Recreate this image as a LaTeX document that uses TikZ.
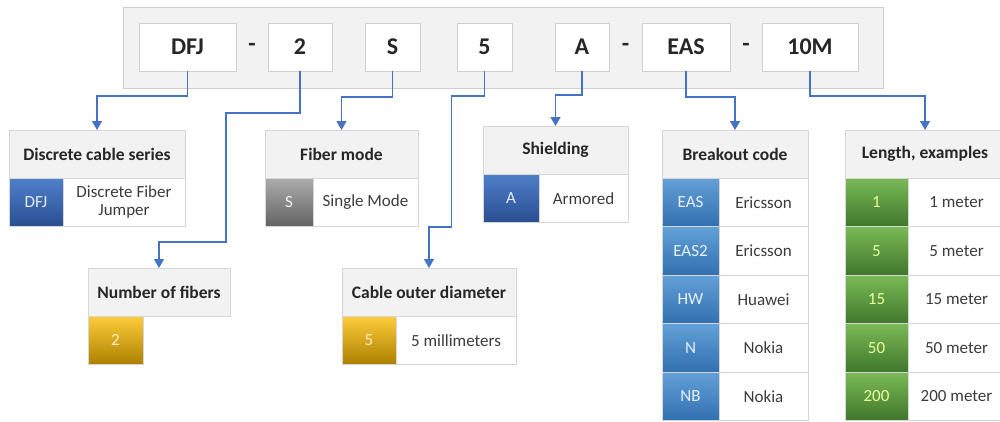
\documentclass[tikz,border=0pt]{standalone}
\usepackage{fontspec}
\setmainfont{Carlito}
\usetikzlibrary{arrows.meta,positioning}

\definecolor{panel}{HTML}{F2F2F2}
\definecolor{framegray}{HTML}{CFCFCF}
\definecolor{linegray}{HTML}{D6D6D6}
\definecolor{ink}{HTML}{262626}
\definecolor{linkblue}{HTML}{4472C4}
\definecolor{navytop}{HTML}{4F7FCB}
\definecolor{navybot}{HTML}{2A4E90}
\definecolor{skytop}{HTML}{63A0D8}
\definecolor{skybot}{HTML}{3270B0}
\definecolor{slatetop}{HTML}{ADADAD}
\definecolor{slatebot}{HTML}{626262}
\definecolor{goldtop}{HTML}{FFCD3A}
\definecolor{goldbot}{HTML}{AC8000}
\definecolor{leaftop}{HTML}{7BBA56}
\definecolor{leafbot}{HTML}{3E782B}

\begin{document}
\begin{tikzpicture}[x=1pt,y=-1pt,>={Triangle[width=10pt,length=9pt]},
    every node/.style={outer sep=0pt},
    frame/.style={draw=framegray,fill=panel,line width=0.8pt,minimum width=760pt,minimum height=81pt,anchor=north west},
    code/.style={draw=framegray,fill=white,line width=0.8pt,minimum height=48pt,inner sep=0pt,text=ink,font=\fontsize{24}{24}\selectfont\bfseries},
    sep/.style={inner sep=0pt,minimum height=48pt,text=ink,font=\fontsize{24}{24}\selectfont\bfseries},
    head/.style={draw=linegray,fill=panel,line width=0.8pt,minimum height=48pt,inner sep=0pt,anchor=north west,text=ink,font=\fontsize{17.5}{18}\selectfont\bfseries},
    key/.style={draw=linegray,line width=0.8pt,minimum height=48.5pt,inner sep=0pt,anchor=north west,font=\fontsize{17}{18}\selectfont},
    desc/.style={draw=linegray,fill=white,line width=0.8pt,minimum height=48.5pt,inner sep=0pt,anchor=north west,align=center,text=ink!90,font=\fontsize{17}{18}\selectfont},
    navy/.style={key,top color=navytop,bottom color=navybot,text=white!85!navytop},
    sky/.style={key,top color=skytop,bottom color=skybot,text=white!85!skytop},
    slate/.style={key,top color=slatetop,bottom color=slatebot,text=white!85!slatetop},
    gold/.style={key,top color=goldtop,bottom color=goldbot,text=white!70!goldtop},
    leaf/.style={key,top color=leaftop,bottom color=leafbot,text=green!20!yellow!40!white},
    link/.style={->,draw=linkblue,line width=1.3pt}]

\useasboundingbox (0,0) rectangle (1000,421);

% part number
\node [frame] (pn) at (123,7) {};

\node [code, minimum width=97pt] (series) at (187.5,47) {DFJ};
\node [sep, minimum width=32pt] (d1) [right=0pt of series] {-};
\node [code, minimum width=64pt] (fibers) [right=0pt of d1] {2};
\node [code, minimum width=55pt] (mode) [right=33pt of fibers] {S};
\node [code, minimum width=55pt] (diam) [right=37pt of mode] {5};
\node [code, minimum width=54pt] (shield) [right=43pt of diam] {A};
\node [sep, minimum width=33pt] (d2) [right=0pt of shield] {-};
\node [code, minimum width=88pt] (breakout) [right=0pt of d2] {EAS};
\node [sep, minimum width=32pt] (d3) [right=0pt of breakout] {-};
\node [code, minimum width=96pt] (length) [right=0pt of d3] {10M};

% upper tables
\node [head, minimum width=176pt] (series-h) at (9,130) {Discrete cable series};
\node [navy, minimum width=54pt] (series-k1) at (series-h.south west) {DFJ};
\node [desc, minimum width=122pt] (series-v1) at (series-k1.north east) {Discrete Fiber\\Jumper};

\node [head, minimum width=153pt] (mode-h) at (265,130) {Fiber mode};
\node [slate, minimum width=48pt] (mode-k1) at (mode-h.south west) {S};
\node [desc, minimum width=105pt] (mode-v1) at (mode-k1.north east) {Single Mode};

\node [head, minimum width=145pt] (shield-h) at (483,126) {Shielding};
\node [navy, minimum width=56pt] (shield-k1) at (shield-h.south west) {A};
\node [desc, minimum width=89pt] (shield-v1) at (shield-k1.north east) {Armored};

% lower tables
\node [head, minimum width=142pt] (fibers-h) at (88,268) {Number of fibers};
\node [gold, minimum width=55pt] (fibers-k1) at (fibers-h.south west) {2};

\node [head, minimum width=174pt] (diam-h) at (342,268) {Cable outer diameter};
\node [gold, minimum width=54pt] (diam-k1) at (diam-h.south west) {5};
\node [desc, minimum width=120pt] (diam-v1) at (diam-k1.north east) {5 millimeters};

% breakout codes
\node [head, minimum width=146pt] (breakout-h) at (662,130) {Breakout code};
\node [sky, minimum width=57pt] (breakout-k1) at (breakout-h.south west) {EAS};
\node [desc, minimum width=89pt] (breakout-v1) at (breakout-k1.north east) {Ericsson};
\node [sky, minimum width=57pt] (breakout-k2) at (breakout-k1.south west) {EAS2};
\node [desc, minimum width=89pt] (breakout-v2) at (breakout-k2.north east) {Ericsson};
\node [sky, minimum width=57pt] (breakout-k3) at (breakout-k2.south west) {HW};
\node [desc, minimum width=89pt] (breakout-v3) at (breakout-k3.north east) {Huawei};
\node [sky, minimum width=57pt] (breakout-k4) at (breakout-k3.south west) {N};
\node [desc, minimum width=89pt] (breakout-v4) at (breakout-k4.north east) {Nokia};
\node [sky, minimum width=57pt] (breakout-k5) at (breakout-k4.south west) {NB};
\node [desc, minimum width=89pt] (breakout-v5) at (breakout-k5.north east) {Nokia};

% lengths
\node [head, minimum width=160pt] (length-h) at (845,130) {Length, examples};
\node [leaf, minimum width=63pt] (length-k1) at (length-h.south west) {1};
\node [desc, minimum width=97pt] (length-v1) at (length-k1.north east) {1 meter};
\node [leaf, minimum width=63pt] (length-k2) at (length-k1.south west) {5};
\node [desc, minimum width=97pt] (length-v2) at (length-k2.north east) {5 meter};
\node [leaf, minimum width=63pt] (length-k3) at (length-k2.south west) {15};
\node [desc, minimum width=97pt] (length-v3) at (length-k3.north east) {15 meter};
\node [leaf, minimum width=63pt] (length-k4) at (length-k3.south west) {50};
\node [desc, minimum width=97pt] (length-v4) at (length-k4.north east) {50 meter};
\node [leaf, minimum width=63pt] (length-k5) at (length-k4.south west) {200};
\node [desc, minimum width=97pt] (length-v5) at (length-k5.north east) {200 meter};

% links
\draw [link] (series.south) -- ++(0,25) -| (series-h.north);
\draw [link] (fibers.south) -- ++(0,42) -| ++(-74,129) -| (fibers-h.north);
\draw [link] (mode.south) -- ++(0,26) -| (mode-h.north);
\draw [link] (diam.south) -- ++(0,25) -| ++(-33,131) -| (diam-h.north);
\draw [link] (shield.south) -- ++(0,24) -| (shield-h.north);
\draw [link] (breakout.south) -- ++(0,26) -| (breakout-h.north);
\draw [link] (length.south) -- ++(0,25) -| (length-h.north);

\end{tikzpicture}
\end{document}
